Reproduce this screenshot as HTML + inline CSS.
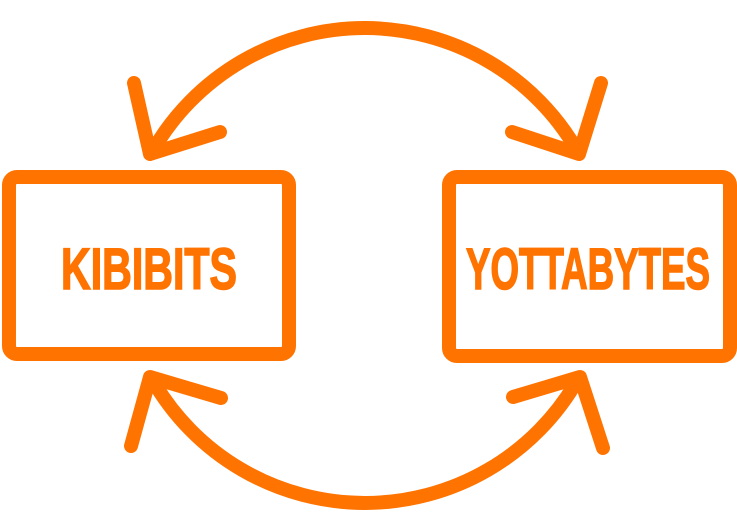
<!DOCTYPE html>
<html><head><meta charset="utf-8"><style>
html,body{margin:0;padding:0;background:#fff;}
svg{display:block;}
text{font-family:"Liberation Sans Narrow","Liberation Sans",sans-serif;font-weight:bold;fill:#FF7300;stroke:#FF7300;stroke-width:1.6;}
</style></head><body>
<svg width="737" height="532" viewBox="0 0 737 532">
<g fill="none" stroke="#FF7300" stroke-width="14" stroke-linecap="round" stroke-linejoin="round">
<rect x="9" y="177" width="280" height="177" rx="8"/>
<rect x="449" y="177" width="281" height="179" rx="8"/>
<path d="M152 152 A245 245 0 0 1 578 152"/>
<path d="M134 83 L150 154 L220 132"/>
<path d="M601 83 L579 154 L512 132"/>
<path d="M152 379 A245 245 0 0 0 578 379"/>
<path d="M131 446 L150 377 L221 398"/>
<path d="M603 448 L580 377 L513 397"/>
</g>
<text x="61" y="289" font-size="58" textLength="176" lengthAdjust="spacingAndGlyphs">KIBIBITS</text>
<text x="466" y="289" font-size="58" textLength="244" lengthAdjust="spacingAndGlyphs">YOTTABYTES</text>
</svg>
</body></html>
